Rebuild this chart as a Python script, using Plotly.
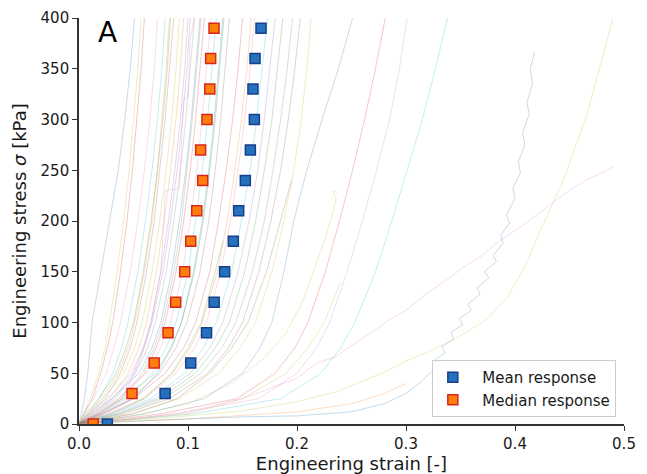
import plotly.graph_objects as go

# ---------------- data ----------------
STRESS_GRID = [0, 10, 25, 50, 75, 100, 150, 200, 250, 300, 350, 400]

# individual specimen curves (strain at each STRESS_GRID level)
L1 = [0, .002, .005, .008, .010, .012, .020, .028, .036, .042, .047, .051]
L2 = [0, .005, .012, .020, .026, .031, .038, .044, .049, .053, .057, .060]
L3 = [0, .004, .013, .025, .032, .038, .047, .054, .060, .065, .069, .072]
L4 = [0, .008, .019, .031, .039, .045, .054, .061, .067, .072, .076, .079]
L5 = [0, .006, .018, .034, .043, .050, .059, .066, .072, .077, .081, .084]
L6 = [0, .010, .024, .038, .047, .053, .062, .069, .074, .079, .083, .087]
L7 = [0, .007, .022, .041, .051, .058, .067, .074, .080, .085, .089, .092]
L8 = [0, .012, .028, .045, .055, .062, .071, .078, .084, .089, .093, .096]
L9 = [0, .009, .026, .048, .059, .066, .075, .082, .088, .093, .097, .100]
L10 = [0, .015, .033, .052, .063, .070, .080, .087, .093, .098, .102, .106]
L11 = [0, .011, .030, .055, .067, .075, .085, .092, .098, .103, .107, .111]
L12 = [0, .018, .039, .060, .071, .079, .089, .096, .102, .107, .111, .115]
L13 = [0, .014, .036, .062, .075, .084, .095, .102, .108, .113, .117, .121]
L14 = [0, .020, .044, .067, .080, .089, .100, .107, .113, .118, .122, .126]
L15 = [0, .016, .041, .070, .084, .094, .105, .113, .119, .124, .128, .132]
L16 = [0, .022, .048, .074, .089, .099, .111, .119, .125, .130, .134, .138]
L17 = [0, .004, .010, .018, .024, .028, .035, .041, .046, .050, .054, .057]
L18 = [0, .009, .021, .036, .045, .051, .060, .067, .072, .076, .080, .083]
L19 = [0, .013, .031, .050, .060, .067, .077, .084, .090, .095, .099, .102]
L20 = [0, .017, .037, .058, .069, .077, .087, .094, .099, .104, .108, .112]
L21 = [0, .024, .050, .072, .085, .094, .106, .114, .120, .125, .129, .133]
M1 = [0, .020, .050, .079, .096, .107, .120, .128, .135, .141, .146, .150]
M2 = [0, .028, .060, .089, .106, .117, .130, .139, .146, .152, .157, .161]
M3 = [0, .030, .066, .097, .114, .126, .140, .149, .157, .163, .168, .173]
M4 = [0, .036, .074, .107, .125, .138, .152, .162, .170, .177, .182, .187]
M5 = [0, .042, .083, .118, .137, .150, .165, .176, .185, .192, .198, .203]
M6 = [0, .048, .092, .128, .148, .162, .177, .188, .197, .204, .209, .213]
M7 = [0, .026, .058, .086, .102, .113, .127, .136, .143, .149, .154, .158]
M8 = [0, .034, .070, .102, .120, .132, .146, .156, .164, .170, .175, .180]
M9 = [0, .038, .078, .112, .131, .144, .159, .170, .178, .185, .191, .196]
R1 = [0, .060, .115, .150, .166, .177, .188, .197, .209, .223, .238, .251]
R2 = [0, .075, .145, .180, .198, .210, .226, .239, .251, .262, .272, .281]
R3 = [0, .090, .165, .200, .218, .230, .246, .260, .273, .285, .294, .301]
R4 = [0, .105, .185, .222, .240, .253, .272, .287, .301, .315, .327, .338]

E1_strain = [0, .03, .06, .085, .10, .112, .125, .132]
E1_stress = [0, 10, 25, 50, 75, 100, 150, 180]
E2_strain = [0, .05, .09, .12, .14, .155, .172, .185, .195]
E2_stress = [0, 10, 25, 50, 75, 100, 150, 200, 240]
E3_strain = [0, .10, .15, .19, .21, .225, .24]
E3_stress = [0, 10, 25, 50, 75, 100, 140]
E4_strain = [0, .10, .20, .25, .28, .30]
E4_stress = [0, 5, 12, 20, 30, 40]

P1_strain = [0, .02, .04, .055, .066, .075, .078, .079, .092, .094, .096, .100, .102, .106]
P1_stress = [0, 10, 25, 60, 100, 150, 200, 230, 232, 280, 320, 322, 380, 400]

G1_strain = [0, .05, .10, .14, .17, .19, .205, .215, .225, .232, .236, .233, .237]
G1_stress = [0, 8, 20, 40, 65, 90, 120, 150, 180, 205, 222, 230, 228]

B1_strain = [0, .05, .10, .15, .20, .25, .28, .30, .313, .322, .330, .326, .336, .333, .344,
             .341, .352, .349, .360, .357, .368, .365, .376, .372, .383, .380, .389, .387,
             .395, .392, .400, .398, .405, .403, .409, .407, .413, .411, .416, .414, .418]
B1_stress = [0, 3, 5, 7, 8, 12, 20, 30, 41, 50, 58, 63, 70, 76, 84, 90, 98, 104, 112, 118,
             128, 134, 144, 150, 160, 166, 178, 186, 198, 206, 222, 232, 248, 258, 275, 287,
             305, 317, 335, 350, 366]

Y1_strain = [0, .05, .10, .15, .20, .237, .26, .282, .30, .322, .343, .352, .375, .393,
             .41, .423, .444, .466, .49]
Y1_stress = [0, 4, 8, 13, 22, 32, 42, 52, 62, 72, 83, 88, 104, 125, 157, 190, 239, 305, 400]

P2_strain = [0, .05, .10, .15, .20, .218, .235, .249, .265, .285, .30, .322, .335, .352,
             .37, .385, .405, .425, .444, .465, .49]
P2_stress = [0, 5, 12, 25, 45, 60, 66, 76, 88, 103, 112, 131, 140, 154, 166, 180, 194,
             210, 226, 240, 253]

# mean / median responses
RESP_STRESS = [0, 30, 60, 90, 120, 150, 180, 210, 240, 270, 300, 330, 360, 390]
MEAN_STRAIN = [0.026, 0.079, 0.1025, 0.117, 0.124, 0.1336, 0.1416, 0.1465, 0.1526,
               0.1572, 0.1609, 0.1596, 0.1615, 0.167]
MEDIAN_STRAIN = [0.013, 0.0486, 0.069, 0.0817, 0.0887, 0.097, 0.1025, 0.108, 0.1135,
                 0.1116, 0.1174, 0.120, 0.1208, 0.1239]

X_TICKS = [0.0, 0.1, 0.2, 0.3, 0.4, 0.5]
X_TICK_TEXT = ["0.0", "0.1", "0.2", "0.3", "0.4", "0.5"]
Y_TICKS = [0, 50, 100, 150, 200, 250, 300, 350, 400]

COLORS = ["#1f77b4", "#ff7f0e", "#2ca02c", "#d62728", "#9467bd",
          "#8c564b", "#e377c2", "#7f7f7f", "#bcbd22", "#17becf"]

grid_curves = [L1, L2, L3, L4, L5, L6, L7, L8, L9, L10, L11, L12, L13, L14, L15, L16,
               L17, L18, L19, L20, L21, M1, M2, M3, M4, M5, M6, M7, M8, M9,
               R1, R2, R3, R4]
curves = [(c, STRESS_GRID) for c in grid_curves]
curves += [(E1_strain, E1_stress), (E2_strain, E2_stress), (E3_strain, E3_stress),
           (E4_strain, E4_stress)]
curves += [(P1_strain, P1_stress), (G1_strain, G1_stress), (B1_strain, B1_stress),
           (Y1_strain, Y1_stress), (P2_strain, P2_stress)]
special_colors = ["#e377c2", "#bcbd22", "#1f77b4", "#bcbd22", "#e377c2"]

fig = go.Figure()
n_plain = len(grid_curves) + 4
for i, (xs, ys) in enumerate(curves):
    col = COLORS[(i * 3) % 10] if i < n_plain else special_colors[i - n_plain]
    fig.add_trace(go.Scatter(
        x=xs, y=ys, mode="lines", showlegend=False, hoverinfo="skip",
        line=dict(color=col, width=0.8), opacity=0.32))

NBSP = "\u00a0\u00a0"
fig.add_trace(go.Scatter(
    x=MEAN_STRAIN, y=RESP_STRESS, mode="markers", name=NBSP + "Mean response",
    marker=dict(symbol="square", size=10, color="#2571bd",
                line=dict(color="#173f8a", width=1.5))))
fig.add_trace(go.Scatter(
    x=MEDIAN_STRAIN, y=RESP_STRESS, mode="markers", name=NBSP + "Median response",
    marker=dict(symbol="square", size=10, color="#ff7f0e",
                line=dict(color="#d8261c", width=1.5))))

axis_common = dict(showgrid=False, zeroline=False, showline=True, linecolor="#333333",
                   linewidth=1.6, ticks="outside", ticklen=5, tickwidth=1.3,
                   tickcolor="#333333", mirror=False, automargin=False,
                   tickfont=dict(family="DejaVu Sans", size=15, color="#1a1a1a"))

fig.update_xaxes(range=[0, 0.5], tickvals=X_TICKS, ticktext=X_TICK_TEXT,
                 title=dict(text="Engineering strain [-]", standoff=3,
                            font=dict(family="DejaVu Sans", size=18, color="#1a1a1a")),
                 **axis_common)
fig.update_yaxes(range=[0, 400], tickvals=Y_TICKS,
                 title=dict(text="Engineering stress <i>σ</i> [kPa]", standoff=9,
                            font=dict(family="DejaVu Sans", size=18, color="#1a1a1a")),
                 **axis_common)

fig.add_annotation(text="A", xref="paper", yref="paper", x=0.031, y=1.009,
                   xanchor="left", yanchor="top", showarrow=False,
                   font=dict(family="DejaVu Sans", size=28, color="#000000"))

# page body has an 8px margin, so the figure is shifted by 8px; compensate
fig.update_layout(
    width=639, height=466,
    margin=dict(l=71, r=23, t=10, b=50),
    plot_bgcolor="white", paper_bgcolor="white",
    legend=dict(x=0.985, y=0.017, xanchor="right", yanchor="bottom",
                bgcolor="rgba(255,255,255,0.85)", bordercolor="#cccccc", borderwidth=1,
                font=dict(family="DejaVu Sans", size=15, color="#1a1a1a")),
)

fig.write_html("out.html")
